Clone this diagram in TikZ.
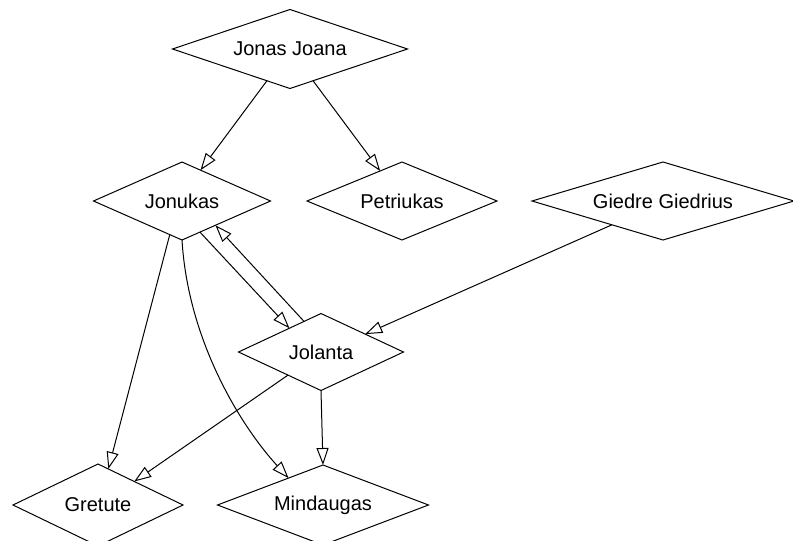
\documentclass[tikz,border=0pt]{standalone}
\usepackage{fontspec}
\setmainfont{Liberation Sans}
\usetikzlibrary{shapes.geometric,arrows.meta}
\begin{document}
\begin{tikzpicture}[x=1pt,y=-1pt,
  person/.style={diamond, draw, line width=1pt, inner sep=0pt, outer sep=0pt,
                 aspect=3, font=\fontsize{20}{23}\selectfont},
  rel/.style={-{Triangle[open,length=17pt,width=12pt]}, line width=1pt}]
\fill[white] (0,0) rectangle (793,541);
\useasboundingbox (0,0) rectangle (793,541);

% family members
\node[person, minimum width=235pt, minimum height=79pt] (jj)  at (290,49)  {Jonas Joana};
\node[person, minimum width=177pt, minimum height=78pt] (jon) at (182,201) {Jonukas};
\node[person, minimum width=190pt, minimum height=78pt] (pet) at (402,201) {Petriukas};
\node[person, minimum width=262pt, minimum height=78pt] (gg)  at (663,201) {Giedre Giedrius};
\node[person, minimum width=165pt, minimum height=77pt] (jol) at (321,352) {Jolanta};
\node[person, minimum width=170pt, minimum height=82pt] (gre) at (98,505)  {Gretute};
\node[person, minimum width=211pt, minimum height=80pt] (min) at (323,505) {Mindaugas};

% relations
\draw[rel] (jj.234) -- (jon.59);
\draw[rel] (jj.306.6) -- (pet.126.9);
\draw[rel] (jon.300) -- (jol.143);
\draw[rel] (jol.119.5) -- (jon.324);
\draw[rel] (jon.250.6) -- (gre.74.9);
\draw[rel] (jon.south) .. controls (188,340) and (240,425) .. (min.142.4);
\draw[rel] (jol.215.5) -- (gre.33.3);
\draw[rel] (jol.south) -- (min.north);
\draw[rel] (gg.205.2) -- (jol.22.9);
\end{tikzpicture}
\end{document}
